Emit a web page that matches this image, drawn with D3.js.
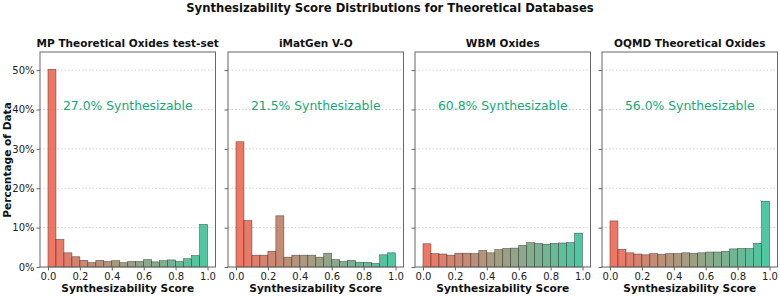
<!DOCTYPE html>
<html><head><meta charset="utf-8">
<script src="https://cdn.jsdelivr.net/npm/d3@7"></script>
<style>body{margin:0;background:#fff;} svg{display:block;font-family:"DejaVu Sans",sans-serif;}</style>
</head><body><svg id="c" width="780" height="296"></svg>
<script>
const titles = ["MP Theoretical Oxides test-set","iMatGen V-O","WBM Oxides","OQMD Theoretical Oxides"];
const synthLabels = ["27.0% Synthesizable","21.5% Synthesizable","60.8% Synthesizable","56.0% Synthesizable"];
const binStarts = [0,0.05,0.1,0.15,0.2,0.25,0.3,0.35,0.4,0.45,0.5,0.55,0.6,0.65,0.7,0.75,0.8,0.85,0.9,0.95];
const mpValues = [50.2,7.0,3.6,2.6,1.7,1.1,1.7,1.4,1.6,1.1,1.4,1.4,1.9,1.3,1.6,1.8,1.4,2.1,2.9,10.8];
const imatgenValues = [31.8,11.8,3.0,3.0,4.0,13.0,2.5,3.0,3.0,3.0,2.5,3.5,1.9,1.4,1.7,1.2,1.2,0.9,3.1,3.6];
const wbmValues = [5.9,3.4,3.3,3.0,3.5,3.5,3.4,4.2,3.6,4.4,4.7,4.8,5.5,6.2,6.0,5.8,6.0,6.1,6.2,8.6];
const oqmdValues = [11.7,4.5,3.6,3.3,3.1,3.4,3.2,3.4,3.4,3.6,3.5,3.6,3.8,3.8,4.0,4.6,4.7,4.7,6.0,16.7];
const yTicks = [0,10,20,30,40,50];
const xTicks = [0,0.2,0.4,0.6,0.8,1.0];
const seriesList = [mpValues, imatgenValues, wbmValues, oqmdValues];

(function(){
const svg = d3.select("#c");
const panelLefts = [40,228,415,602];
const pw = 175.5, plotTop = 52, plotBottom = 267;
const y = d3.scaleLinear().domain([0,54.6]).range([plotBottom, plotTop]);
const col = d3.scaleLinear().domain([0,0.95]).range(["#ee6752","#3cc197"]).interpolate(d3.interpolateRgb);

svg.append("text").attr("x",390).attr("y",12).attr("text-anchor","middle")
  .attr("font-size",11.6).attr("font-weight","bold").attr("fill","#111")
  .text("Synthesizability Score Distributions for Theoretical Databases");

seriesList.forEach((vals,i)=>{
  const x0 = panelLefts[i];
  const x = d3.scaleLinear().domain([-0.05,1.05]).range([x0, x0+pw]);
  const g = svg.append("g");
  g.selectAll(".grid").data(yTicks).join("line")
    .attr("x1",x0).attr("x2",x0+pw).attr("y1",d=>y(d)).attr("y2",d=>y(d))
    .attr("stroke","#c8c8c8").attr("stroke-width",0.8).attr("stroke-dasharray","1.5,2");
  g.selectAll(".bar").data(vals).join("rect")
    .attr("x",(d,j)=>x(binStarts[j])).attr("width",(d,j)=>x(binStarts[j]+0.05)-x(binStarts[j]))
    .attr("y",d=>y(d)).attr("height",d=>y(0)-y(d))
    .attr("fill",(d,j)=>col(binStarts[j])).attr("fill-opacity",0.9)
    .attr("stroke","#333").attr("stroke-opacity",0.75).attr("stroke-width",0.6);
  g.append("rect").attr("x",x0).attr("y",plotTop).attr("width",pw).attr("height",plotBottom-plotTop)
    .attr("fill","none").attr("stroke","#666").attr("stroke-width",1);
  const xa = g.append("g").attr("transform",`translate(0,${plotBottom})`)
    .call(d3.axisBottom(x).tickValues(xTicks).tickFormat(d3.format(".1f")).tickSize(3.5).tickPadding(2));
  xa.select(".domain").remove();
  xa.selectAll("line").attr("stroke","#666");
  xa.selectAll("text").attr("font-size",10).attr("fill","#222").attr("font-family","DejaVu Sans");
  const ya = g.append("g").attr("transform",`translate(${x0},0)`)
    .call(d3.axisLeft(y).tickValues(yTicks).tickFormat(i===0?(d=>d+"%"):"").tickSize(3.5).tickPadding(2));
  ya.select(".domain").remove();
  ya.selectAll("line").attr("stroke","#666");
  ya.selectAll("text").attr("font-size",10).attr("fill","#222").attr("font-family","DejaVu Sans");
  g.append("text").attr("x",x0+pw/2).attr("y",47).attr("text-anchor","middle")
    .attr("font-size",10.5).attr("font-weight","bold").attr("fill","#111").text(titles[i]);
  g.append("text").attr("x",x0+pw/2).attr("y",292).attr("text-anchor","middle")
    .attr("font-size",10.6).attr("font-weight","bold").attr("fill","#111").text("Synthesizability Score");
  g.append("text").attr("x",x0+pw/2).attr("y",plotBottom-(plotBottom-plotTop)*0.75).attr("dy","0.35em").attr("text-anchor","middle")
    .attr("font-size",12.4).attr("fill","#16a87a").text(synthLabels[i]);
});
svg.append("text").attr("transform","translate(11,160) rotate(-90)").attr("text-anchor","middle")
  .attr("font-size",10.6).attr("font-weight","bold").attr("fill","#111").text("Percentage of Data");
})();
</script></body></html>
